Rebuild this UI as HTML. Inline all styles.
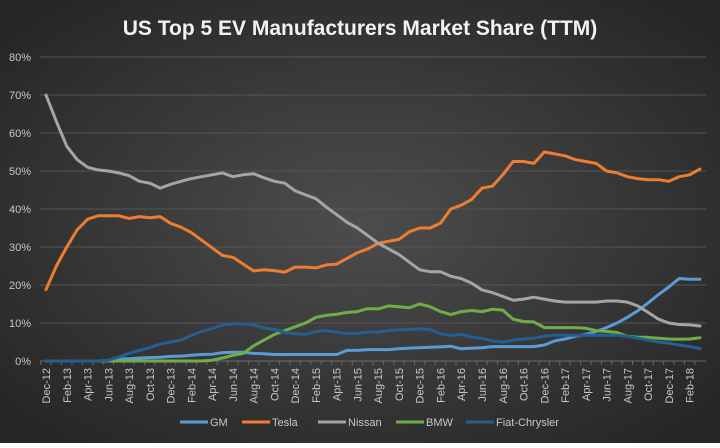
<!DOCTYPE html>
<html><head><meta charset="utf-8"><style>
html,body{margin:0;padding:0;}
body{width:720px;height:443px;overflow:hidden;font-family:"Liberation Sans",sans-serif;}
</style></head><body>
<svg id="chart" width="720" height="443" xmlns="http://www.w3.org/2000/svg">
<defs><radialGradient id="bg" cx="50%" cy="50%" r="65%"><stop offset="0" stop-color="#4d4d4d"/><stop offset="1" stop-color="#262626"/></radialGradient></defs>
<rect width="720" height="443" fill="url(#bg)"/>
<text x="360" y="35" text-anchor="middle" fill="#f2f2f2" font-size="21" font-weight="bold">US Top 5 EV Manufacturers Market Share (TTM)</text>
<g id="grid"></g><g id="xaxis"></g><g id="lines"></g><g id="legend"></g>
</svg>
<script>
const months=["Dec-12","Jan-13","Feb-13","Mar-13","Apr-13","May-13","Jun-13","Jul-13","Aug-13","Sep-13","Oct-13","Nov-13","Dec-13","Jan-14","Feb-14","Mar-14","Apr-14","May-14","Jun-14","Jul-14","Aug-14","Sep-14","Oct-14","Nov-14","Dec-14","Jan-15","Feb-15","Mar-15","Apr-15","May-15","Jun-15","Jul-15","Aug-15","Sep-15","Oct-15","Nov-15","Dec-15","Jan-16","Feb-16","Mar-16","Apr-16","May-16","Jun-16","Jul-16","Aug-16","Sep-16","Oct-16","Nov-16","Dec-16","Jan-17","Feb-17","Mar-17","Apr-17","May-17","Jun-17","Jul-17","Aug-17","Sep-17","Oct-17","Nov-17","Dec-17","Jan-18","Feb-18","Mar-18"];
const yTicks=[0,10,20,30,40,50,60,70,80];
const gm=[0,0,0,0,0,0,0,0.5,0.6,0.8,0.9,1.0,1.2,1.3,1.5,1.7,1.8,2.2,2.3,2.3,2.0,1.9,1.7,1.7,1.7,1.7,1.7,1.7,1.7,2.8,2.8,3,3,3,3.2,3.4,3.5,3.6,3.7,3.9,3.2,3.4,3.5,3.8,3.8,3.8,3.8,3.8,4.2,5.3,5.8,6.5,7,7.8,8.8,10,11.5,13.2,15.3,17.5,19.5,21.7,21.5,21.5];
const tesla=[18.8,25,30,34.5,37.3,38.2,38.2,38.2,37.5,38,37.7,38,36.2,35.2,33.8,31.8,29.8,27.8,27.3,25.5,23.7,24,23.8,23.4,24.7,24.7,24.5,25.3,25.5,27,28.5,29.5,31,31.5,32,34,35,35,36.3,40,41,42.5,45.5,46,49,52.5,52.5,52,55,54.5,54,53,52.5,52,50,49.5,48.5,48,47.7,47.7,47.3,48.5,49,50.5];
const nissan=[70,63,56.5,53,51,50.3,50,49.5,48.8,47.3,46.8,45.5,46.5,47.3,48,48.5,49,49.5,48.5,49,49.3,48.2,47.3,46.8,44.8,43.7,42.7,40.5,38.5,36.5,35,33,31,29.5,28,26,24,23.5,23.5,22.3,21.7,20.5,18.7,18,17,16,16.3,16.8,16.3,15.8,15.5,15.5,15.5,15.5,15.8,15.8,15.5,14.5,12.8,11,10,9.6,9.5,9.2];
const bmw=[0,0,0,0,0,0,0,0,0,0,0,0,0,0,0,0,0.2,0.8,1.5,2,4,5.5,7,8,9,10,11.5,12,12.3,12.8,13,13.8,13.7,14.5,14.3,14.0,15,14.3,13,12.2,13,13.3,13,13.6,13.4,11,10.4,10.3,8.8,8.8,8.8,8.8,8.6,8,7.8,7.5,6.5,6.3,6.2,6,5.8,5.7,5.8,6.1];
const fca=[0,0,0,0,0,0,0.2,1,2,2.8,3.5,4.5,5,5.5,6.7,7.8,8.5,9.5,9.8,9.8,9.5,8.7,8.3,7.5,7.2,7,7.8,8,7.6,7.2,7.3,7.6,7.6,8,8.2,8.3,8.5,8.3,7.2,6.7,7,6.3,6,5.3,5,5.5,5.8,6,6.5,6.8,6.8,6.8,6.8,6.8,6.8,6.8,6.5,6,5.5,5,4.7,4.2,3.8,3.3];
const seriesNames=["GM","Tesla","Nissan","BMW","Fiat-Chrysler"];
const NS="http://www.w3.org/2000/svg";
const X0=46,X1=700,Y0=361,Y80=57,GL=40,GR=706;
const xs=i=>X0+i*(X1-X0)/(months.length-1);
const ys=v=>Y0-v*(Y0-Y80)/80;
function mk(tag,attrs,parent){const e=document.createElementNS(NS,tag);for(const k in attrs)e.setAttribute(k,attrs[k]);parent.appendChild(e);return e;}
const grid=document.getElementById('grid');
yTicks.forEach(t=>{
  const l=mk('line',{x1:GL,x2:GR,y1:ys(t),y2:ys(t),stroke:t===0?'#6a6a6a':'#555','stroke-width':1},grid);
  
  
  const tx=mk('text',{x:31,y:ys(t)+4,'text-anchor':'end',fill:'#c8c8c8','font-size':11},grid);
  tx.textContent=t+'%';
  
  
});
const xa=document.getElementById('xaxis');
months.forEach((m,i)=>{
  const tk=mk('line',{x1:xs(i)-5.2,x2:xs(i)-5.2,y1:Y0,y2:Y0+4,stroke:'#6a6a6a'},xa);
  
  
  if(i%2===0){
    const t=mk('text',{transform:`translate(${xs(i)+4},368) rotate(-90)`,'text-anchor':'end',fill:'#c8c8c8','font-size':11},xa);
    t.textContent=m;
    
    
  }
});
const series=[gm,tesla,nissan,bmw,fca];
const colors=["#5b9bd5","#ed7d31","#a5a5a5","#70ad47","#255e91"];
const lg=document.getElementById('lines');
series.forEach((s,k)=>{
  const d=s.map((v,i)=>(i?'L':'M')+xs(i).toFixed(1)+','+ys(v).toFixed(1)).join(' ');
  const p=mk('path',{d:d,fill:'none',stroke:colors[k],'stroke-width':3,'stroke-linejoin':'round','stroke-linecap':'round'},lg);
  
  
});
// draw GM last-ish order like Excel: FCA drawn over? keep order
const leg=document.getElementById('legend');
const lx=[180,242,318,396,466];
seriesNames.forEach((n,k)=>{
  const g=mk('g',{},leg);
  
  
  mk('line',{x1:lx[k],x2:lx[k]+28,y1:422,y2:422,stroke:colors[k],'stroke-width':3},g);
  const t=mk('text',{x:lx[k]+30,y:426,fill:'#c8c8c8','font-size':11},g);
  t.textContent=n;
});
</script>
</body></html>
